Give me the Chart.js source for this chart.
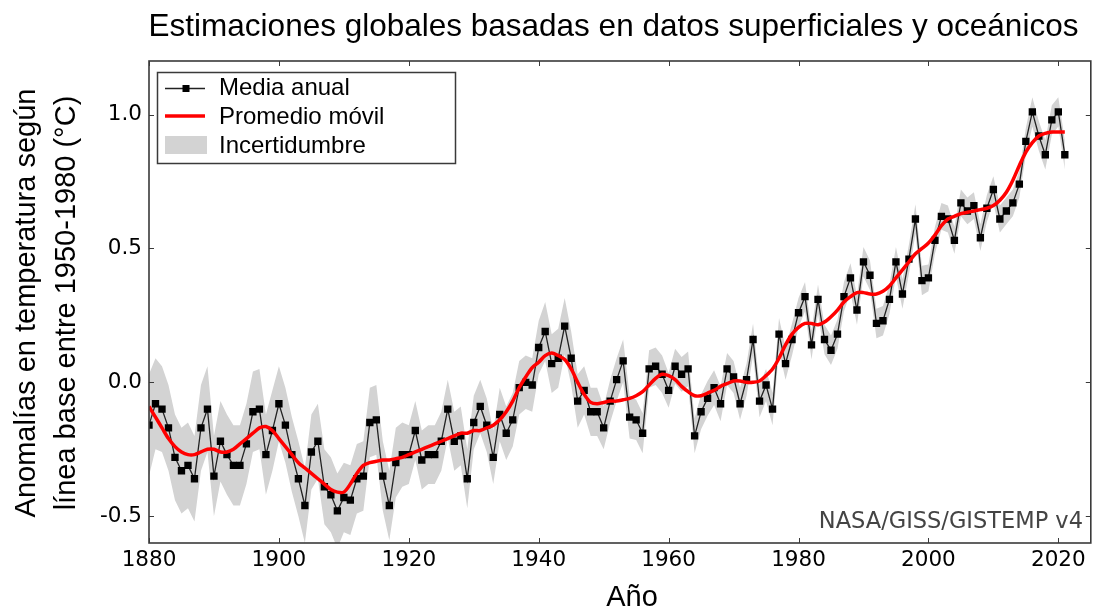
<!DOCTYPE html>
<html>
<head>
<meta charset="utf-8">
<title>Estimaciones globales</title>
<script src="https://cdn.jsdelivr.net/npm/chart.js@4/dist/chart.umd.min.js"></script>
<style>
  html, body { margin: 0; padding: 0; background: #fff; }
  #wrap { width: 1096px; height: 609px; position: relative; }
</style>
</head>
<body>
<div id="wrap"><canvas id="chart" width="1096" height="609"></canvas></div>
<script>
// Annual global surface temperature anomalies (°C vs 1950-1980), 1880-2021
const firstYear = 1880;
const annualMean = [
  -0.16, -0.08, -0.10, -0.17, -0.28, -0.33, -0.31, -0.36, -0.17, -0.10,
  -0.35, -0.22, -0.27, -0.31, -0.31, -0.23, -0.11, -0.10, -0.27, -0.18,
  -0.08, -0.16, -0.27, -0.36, -0.46, -0.26, -0.22, -0.39, -0.42, -0.48,
  -0.43, -0.44, -0.36, -0.35, -0.15, -0.14, -0.35, -0.46, -0.30, -0.27,
  -0.27, -0.18, -0.29, -0.27, -0.27, -0.22, -0.10, -0.22, -0.20, -0.36,
  -0.15, -0.09, -0.16, -0.28, -0.12, -0.19, -0.14, -0.02, 0.00, -0.01,
  0.13, 0.19, 0.07, 0.09, 0.21, 0.09, -0.07, -0.03, -0.11, -0.11,
  -0.17, -0.07, 0.01, 0.08, -0.13, -0.14, -0.19, 0.05, 0.06, 0.03,
  -0.03, 0.06, 0.03, 0.05, -0.20, -0.11, -0.06, -0.02, -0.08, 0.05,
  0.02, -0.08, 0.01, 0.16, -0.07, -0.01, -0.10, 0.18, 0.07, 0.16,
  0.26, 0.32, 0.14, 0.31, 0.16, 0.12, 0.18, 0.32, 0.39, 0.27,
  0.45, 0.40, 0.22, 0.23, 0.31, 0.45, 0.33, 0.46, 0.61, 0.38,
  0.39, 0.53, 0.62, 0.61, 0.53, 0.67, 0.64, 0.66, 0.54, 0.65,
  0.72, 0.61, 0.64, 0.67, 0.74, 0.90, 1.01, 0.92, 0.85, 0.98,
  1.01, 0.85
];

// Smoothed (lowess-style) trend
const movingAverage = [
  -0.09, -0.13, -0.17, -0.21, -0.24, -0.26, -0.27, -0.27, -0.26, -0.25,
  -0.25, -0.26, -0.26, -0.25, -0.23, -0.21, -0.19, -0.17, -0.165, -0.18,
  -0.21, -0.24, -0.27, -0.30, -0.32, -0.34, -0.36, -0.38, -0.40, -0.41,
  -0.41, -0.38, -0.34, -0.31, -0.30, -0.295, -0.29, -0.29, -0.285, -0.28,
  -0.27, -0.26, -0.25, -0.24, -0.23, -0.22, -0.21, -0.20, -0.19, -0.19,
  -0.18, -0.18, -0.17, -0.16, -0.14, -0.11, -0.07, -0.02, 0.02, 0.055,
  0.075, 0.10, 0.11, 0.10, 0.085, 0.05, 0.00, -0.045, -0.075, -0.08,
  -0.075, -0.07, -0.07, -0.065, -0.06, -0.05, -0.035, -0.01, 0.015, 0.03,
  0.025, 0.01, -0.015, -0.035, -0.05, -0.05, -0.04, -0.03, -0.015, -0.005,
  0.005, 0.005, 0.00, 0.00, 0.005, 0.025, 0.05, 0.09, 0.14, 0.18,
  0.205, 0.22, 0.22, 0.215, 0.225, 0.245, 0.27, 0.30, 0.32, 0.335,
  0.335, 0.33, 0.33, 0.34, 0.36, 0.39, 0.42, 0.45, 0.48, 0.50,
  0.52, 0.55, 0.585, 0.61, 0.62, 0.63, 0.635, 0.64, 0.645, 0.65,
  0.66, 0.68, 0.71, 0.755, 0.81, 0.86, 0.895, 0.92, 0.93, 0.935,
  0.935, 0.935
];

// Half-width of the uncertainty band for each year (°C)
const uncertainty = [
  0.19, 0.17, 0.16, 0.16, 0.16, 0.16, 0.16, 0.16, 0.16, 0.16,
  0.15, 0.15, 0.15, 0.15, 0.15, 0.15, 0.15, 0.15, 0.15, 0.15,
  0.14, 0.14, 0.14, 0.14, 0.14, 0.14, 0.14, 0.14, 0.14, 0.14,
  0.13, 0.13, 0.13, 0.13, 0.13, 0.13, 0.13, 0.13, 0.13, 0.12,
  0.11, 0.11, 0.11, 0.11, 0.11, 0.11, 0.11, 0.11, 0.11, 0.11,
  0.10, 0.10, 0.10, 0.10, 0.10, 0.10, 0.10, 0.10, 0.10, 0.10,
  0.10, 0.11, 0.11, 0.11, 0.105, 0.10, 0.10, 0.09, 0.09, 0.09,
  0.08, 0.08, 0.08, 0.08, 0.08, 0.075, 0.075, 0.07, 0.07, 0.07,
  0.065, 0.065, 0.065, 0.065, 0.065, 0.065, 0.065, 0.065, 0.065, 0.06,
  0.06, 0.06, 0.06, 0.06, 0.06, 0.06, 0.06, 0.06, 0.06, 0.06,
  0.055, 0.055, 0.055, 0.055, 0.055, 0.055, 0.055, 0.055, 0.055, 0.055,
  0.055, 0.055, 0.055, 0.055, 0.055, 0.055, 0.055, 0.055, 0.055, 0.055,
  0.05, 0.05, 0.05, 0.05, 0.05, 0.05, 0.05, 0.05, 0.05, 0.05,
  0.05, 0.05, 0.05, 0.05, 0.05, 0.05, 0.055, 0.055, 0.055, 0.055,
  0.055, 0.055
];

const years = annualMean.map((_, i) => firstYear + i);
const xTickYears = [1880, 1900, 1920, 1940, 1960, 1980, 2000, 2020];
const yTickValues = [-0.5, 0.0, 0.5, 1.0];

const chartTitle = 'Estimaciones globales basadas en datos superficiales y oceánicos';
const yTitleLines = ['Anomalías en temperatura según', 'línea base entre 1950-1980 (°C)'];
const xTitle = 'Año';
const sourceNote = 'NASA/GISS/GISTEMP v4';
const legendLabels = ['Media anual', 'Promedio móvil', 'Incertidumbre'];

const BAND_COLOR = '#d3d3d3';
const FRAME_COLOR = '#3a3a3a';

const toPoints = arr => arr.map((v, i) => ({ x: years[i], y: v }));
const bandUpper = annualMean.map((v, i) => v + uncertainty[i]);
const bandLower = annualMean.map((v, i) => v - uncertainty[i]);

// Frame, inward ticks, titles, source note and legend box
const decorations = {
  id: 'decorations',
  afterDatasetsDraw(chart) {
    const { ctx, chartArea: a, scales } = chart;
    ctx.save();
    ctx.strokeStyle = FRAME_COLOR;
    ctx.lineWidth = 1;
    const tl = 5;
    ctx.beginPath();
    xTickYears.forEach(v => {
      const px = Math.round(scales.x.getPixelForValue(v)) + 0.5;
      ctx.moveTo(px, a.bottom); ctx.lineTo(px, a.bottom - tl);
      ctx.moveTo(px, a.top); ctx.lineTo(px, a.top + tl);
    });
    yTickValues.forEach(v => {
      const py = Math.round(scales.y.getPixelForValue(v)) + 0.5;
      ctx.moveTo(a.left, py); ctx.lineTo(a.left + tl, py);
      ctx.moveTo(a.right, py); ctx.lineTo(a.right - tl, py);
    });
    ctx.stroke();
    ctx.lineWidth = 1.6;
    ctx.strokeRect(a.left, a.top, a.right - a.left, a.bottom - a.top);

    // source note
    ctx.fillStyle = '#444';
    ctx.font = '22.5px "DejaVu Sans"';
    ctx.textAlign = 'right';
    ctx.textBaseline = 'alphabetic';
    ctx.fillText(sourceNote, 1083, 528);
    ctx.restore();
  },
  afterDraw(chart) {
    const { ctx } = chart;
    ctx.save();
    ctx.fillStyle = '#000';
    ctx.textBaseline = 'alphabetic';

    // title
    ctx.font = '31.5px "Liberation Sans"';
    ctx.textAlign = 'center';
    ctx.fillText(chartTitle, 613.5, 36);

    // x axis title
    ctx.font = '29px "Liberation Sans"';
    ctx.fillText(xTitle, 632, 606);

    // y axis title (two lines)
    ctx.save();
    ctx.translate(0, 303);
    ctx.rotate(-Math.PI / 2);
    ctx.fillText(yTitleLines[0], 0, 35);
    ctx.fillText(yTitleLines[1], 0, 75);
    ctx.restore();

    // legend
    ctx.fillStyle = '#fff';
    ctx.fillRect(157.5, 72.5, 298, 91);
    ctx.strokeStyle = FRAME_COLOR;
    ctx.lineWidth = 1.5;
    ctx.strokeRect(157.5, 72.5, 298, 91);

    ctx.strokeStyle = '#222';
    ctx.lineWidth = 1.3;
    ctx.beginPath(); ctx.moveTo(165, 88.5); ctx.lineTo(205, 88.5); ctx.stroke();
    ctx.fillStyle = '#000';
    ctx.fillRect(182.5, 85, 7, 7);

    ctx.strokeStyle = '#ff0000';
    ctx.lineWidth = 3.5;
    ctx.beginPath(); ctx.moveTo(165, 116); ctx.lineTo(205, 116); ctx.stroke();

    ctx.fillStyle = BAND_COLOR;
    ctx.fillRect(165, 136, 42, 18);

    ctx.fillStyle = '#000';
    ctx.font = '24px "Liberation Sans"';
    ctx.textAlign = 'left';
    ctx.fillText(legendLabels[0], 219, 95);
    ctx.fillText(legendLabels[1], 219, 123.5);
    ctx.fillText(legendLabels[2], 219, 153);
    ctx.restore();
  }
};

const tickFont = { family: 'DejaVu Sans', size: 21.5 };

new Chart(document.getElementById('chart'), {
  type: 'line',
  data: {
    datasets: [
      {
        label: legendLabels[1],
        data: toPoints(movingAverage),
        borderColor: '#ff0000',
        borderWidth: 3.5,
        pointRadius: 0,
        tension: 0.3,
        fill: false
      },
      {
        label: legendLabels[0],
        data: toPoints(annualMean),
        borderColor: '#222',
        borderWidth: 1.3,
        pointStyle: 'rect',
        pointRadius: 5.2,
        pointBorderWidth: 0,
        pointBackgroundColor: '#000',
        tension: 0,
        fill: false
      },
      {
        label: legendLabels[2],
        data: toPoints(bandUpper),
        borderWidth: 0,
        borderColor: 'rgba(0,0,0,0)',
        backgroundColor: BAND_COLOR,
        pointRadius: 0,
        tension: 0,
        fill: '+1'
      },
      {
        label: 'band-lower',
        data: toPoints(bandLower),
        borderWidth: 0,
        borderColor: 'rgba(0,0,0,0)',
        pointRadius: 0,
        tension: 0,
        fill: false
      }
    ]
  },
  options: {
    responsive: false,
    animation: false,
    devicePixelRatio: 1,
    layout: { padding: { top: 61, right: 3, bottom: 0, left: 0 } },
    plugins: {
      legend: { display: false },
      tooltip: { enabled: false },
      title: { display: false }
    },
    scales: {
      x: {
        type: 'linear',
        min: 1880,
        max: 2025,
        afterBuildTicks: s => { s.ticks = xTickYears.map(v => ({ value: v })); },
        afterFit: s => { s.height = 66; },
        grid: { display: false, drawTicks: false },
        border: { display: false },
        ticks: {
          font: tickFont,
          color: '#000',
          padding: 5,
          maxRotation: 0,
          autoSkip: false,
          callback: v => String(v)
        }
      },
      y: {
        min: -0.6,
        max: 1.2,
        afterBuildTicks: s => { s.ticks = yTickValues.map(v => ({ value: v })); },
        afterFit: s => { s.width = 149; },
        grid: { display: false, drawTicks: false },
        border: { display: false },
        ticks: {
          font: tickFont,
          color: '#000',
          padding: 7,
          callback: v => v.toFixed(1)
        }
      }
    }
  },
  plugins: [decorations]
});
</script>
</body>
</html>
